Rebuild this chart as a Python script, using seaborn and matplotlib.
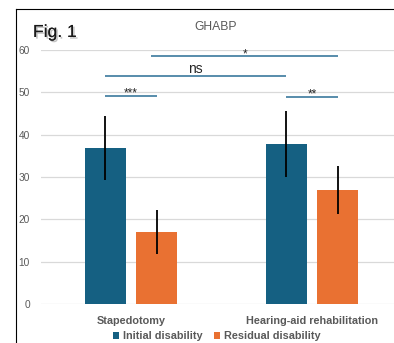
import seaborn as sns
import pandas as pd
import matplotlib.pyplot as plt
import matplotlib.patheffects as pe
from matplotlib.lines import Line2D

groups = ["Stapedotomy", "Hearing-aid rehabilitation"]
series = ["Initial disability", "Residual disability"]
initial_mean = [36.8, 37.8]
initial_sd = [7.5, 7.7]
residual_mean = [17.0, 26.9]
residual_sd = [5.1, 5.7]
y_ticks = [0, 10, 20, 30, 40, 50, 60]

# comparisons: bar index pairs (0 stap init, 1 stap resid, 2 hear init, 3 hear resid)
sig_pairs = [(0, 1), (0, 2), (1, 3), (2, 3)]
sig_levels = [49.2, 53.9, 58.5, 49.0]
sig_labels = ["***", "ns", "*", "**"]

BLUE = "#156082"
ORANGE = "#E97132"
GREY = "#595959"
FONT = "Liberation Sans"

df = pd.DataFrame({
    "group": groups * 2,
    "series": [series[0]] * 2 + [series[1]] * 2,
    "mean": initial_mean + residual_mean,
    "sd": initial_sd + residual_sd,
})

plt.rcParams["font.family"] = FONT

W, H = 394, 343
fig = plt.figure(figsize=(W / 100, H / 100), dpi=100)
ax = fig.add_axes([41 / W, 39 / H, 353 / W, 254 / H])

sns.barplot(data=df, x="group", y="mean", hue="series", order=groups,
            hue_order=series, palette=[BLUE, ORANGE], errorbar=None,
            width=0.572, gap=0.208, saturation=1, ax=ax)

# bar centres keyed by (group, series)
centres = {}
for s_i, cont in enumerate(ax.containers):
    for g_i, bar in enumerate(cont):
        centres[(g_i, s_i)] = bar.get_x() + bar.get_width() / 2

xs = [centres[(g, s)] for s in range(2) for g in range(2)]
ax.errorbar(xs, df["mean"], yerr=df["sd"], fmt="none", ecolor="black",
            elinewidth=1.3, capsize=0, zorder=5)

# significance lines
order = [centres[(0, 0)], centres[(0, 1)], centres[(1, 0)], centres[(1, 1)]]
for (a, b), lvl, lab in zip(sig_pairs, sig_levels, sig_labels):
    x1, x2 = order[a], order[b]
    if lab == "*":
        x1 -= 0.03
    ax.plot([x1, x2], [lvl, lvl], color="#2A6D95", lw=1.1, clip_on=False,
            solid_capstyle="butt")
    if lab == "ns":
        ax.text((x1 + x2) / 2, lvl + 0.55, lab, ha="center", va="baseline",
                fontsize=10, color="#262626", clip_on=False)
    else:
        ax.text((x1 + x2) / 2, lvl - 0.2, lab, ha="center", va="baseline",
                fontsize=8.5, color="#262626", clip_on=False)

ax.set_xlim(-90 / 181, 263 / 181)
ax.set_ylim(0, 60)
ax.set_yticks(y_ticks)
ax.grid(axis="y", color="#D9D9D9", lw=0.9)
ax.set_axisbelow(True)
for sp in ax.spines.values():
    sp.set_visible(False)
ax.tick_params(axis="both", length=0)
ax.tick_params(axis="y", pad=8, labelsize=7.3, labelcolor=GREY)
ax.tick_params(axis="x", pad=9, labelsize=7.8, labelcolor=GREY)
for t in ax.get_xticklabels():
    t.set_fontweight("bold")
ax.set_xlabel("")
ax.set_ylabel("")

handles, labels = ax.get_legend_handles_labels()
ax.get_legend().remove()
leg = fig.legend(handles, labels, loc="center", ncol=2,
                 bbox_to_anchor=(216.5 / W, 1 - 336 / H), frameon=False,
                 handlelength=0.6, handleheight=0.6, handletextpad=0.3,
                 columnspacing=1.1, prop={"weight": "bold", "size": 7.8})
for t in leg.get_texts():
    t.set_color(GREY)

fig.text(216 / W, 1 - 27.5 / H, "GHABP", ha="center", va="center",
         fontsize=8.7, color=GREY)
fig.text(33 / W, 1 - 37 / H, "Fig. 1", ha="left", va="baseline",
         fontsize=12.6, color="#1a1a1a",
         path_effects=[pe.withSimplePatchShadow(offset=(1.2, -1.2),
                                                shadow_rgbFace="#888888",
                                                alpha=0.5), pe.Normal()])

# page frame
fig.add_artist(Line2D([16 / W, 16 / W], [0, 1 - 9 / H], color="black", lw=0.8))
fig.add_artist(Line2D([16 / W, 1], [1 - 9 / H, 1 - 9 / H], color="black", lw=0.8))

fig.savefig("out.png", dpi=100)
